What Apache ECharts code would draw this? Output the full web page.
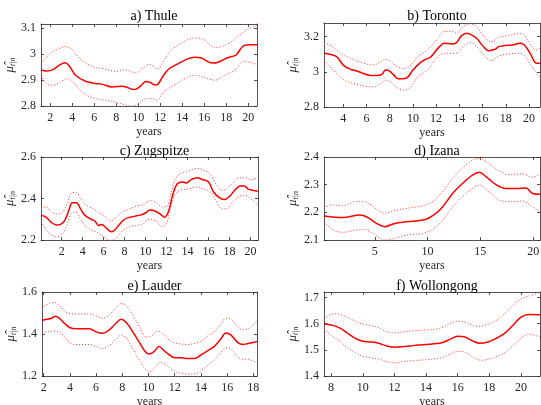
<!DOCTYPE html>
<html><head><meta charset="utf-8">
<script src="https://cdn.jsdelivr.net/npm/echarts@6/dist/echarts.min.js"></script>
<style>html,body{margin:0;padding:0;background:#fff}#c{width:541px;height:405px}</style>
</head><body><div id="c"></div>
<script>
// ---------- DATA ----------
const titles = ['a) Thule','b) Toronto','c) Zugspitze','d) Izana','e) Lauder','f) Wollongong'];

// a) Thule
const thuleYearsMid = [1.16,1.6,2.2,2.8,3.3,3.7,4.3,5.2,6.1,6.7,7.6,8.6,9.6,10.1,10.7,11.1,11.5,11.8,12.3,12.8,13.6,14.5,15.1,15.7,16.3,16.8,17.2,17.9,18.5,18.9,19.3,19.6,20.1,20.8];
const thuleMid = [2.939,2.934,2.939,2.956,2.966,2.956,2.918,2.895,2.886,2.884,2.873,2.876,2.863,2.873,2.894,2.89,2.881,2.884,2.918,2.943,2.962,2.981,2.987,2.985,2.971,2.965,2.967,2.981,2.99,2.996,3.019,3.032,3.035,3.035];
const thuleYearsUp = [1.16,1.94,2.7,3.38,3.93,4.69,5.92,6.84,7.91,8.83,9.74,10.51,10.97,11.73,12.35,12.96,14.03,15.1,15.87,16.94,17.55,18.47,19.3,20.0,20.8];
const thuleUp = [2.962,3.0,3.019,3.028,3.019,2.981,2.95,2.943,2.933,2.939,2.928,2.949,2.96,2.943,2.975,3.013,3.044,3.061,3.057,3.025,3.028,3.047,3.076,3.095,3.11];
const thuleYearsLo = [1.16,1.63,2.24,3.16,3.47,4.08,4.69,5.61,6.53,7.45,8.37,9.28,9.9,10.51,11.12,11.73,12.35,13.26,14.49,15.1,16.33,16.94,17.86,18.77,19.6,20.2,20.8];
const thuleLo = [2.918,2.886,2.88,2.899,2.905,2.892,2.861,2.835,2.825,2.819,2.81,2.8,2.804,2.825,2.829,2.823,2.856,2.88,2.911,2.918,2.905,2.899,2.918,2.937,2.972,2.968,2.958];

// b) Toronto
const torontoYearsMid = [2.34,2.84,3.42,4,4.58,5.16,5.75,6.33,6.91,7.35,7.64,7.93,8.36,8.65,9.09,9.53,9.96,10.4,10.98,11.56,12.15,12.73,13.31,13.75,14.18,14.62,15.05,15.49,16.07,16.51,17.09,17.38,17.96,18.55,19.27,19.6,20.1,20.6,20.95];
const torontoMid = [3.105,3.099,3.086,3.038,3.015,3.004,2.99,2.979,2.979,2.987,3.01,3.006,2.981,2.962,2.96,2.968,3.006,3.038,3.067,3.086,3.133,3.162,3.158,3.166,3.204,3.219,3.21,3.19,3.143,3.12,3.128,3.143,3.149,3.152,3.162,3.152,3.105,3.05,3.048];
const torontoYearsUp = [2.34,2.84,3.42,4,4.87,5.75,6.62,7.2,7.64,8.07,8.65,9.24,9.82,10.4,11.27,12.15,12.73,13.31,13.75,14.33,14.91,15.49,16.22,16.8,17.38,18.25,19.13,19.56,20.15,20.58,20.95];
const torontoUp = [3.162,3.152,3.124,3.095,3.07,3.048,3.038,3.057,3.07,3.061,3.029,3.019,3.038,3.086,3.124,3.19,3.229,3.229,3.219,3.257,3.272,3.257,3.19,3.171,3.196,3.206,3.219,3.21,3.152,3.124,3.133];
const torontoYearsLo = [2.34,2.84,3.42,4,4.87,5.75,6.62,7.2,7.64,8.07,8.65,9.24,9.82,10.4,11.27,12.15,12.73,13.45,13.89,14.47,14.91,15.49,16.22,16.8,17.38,18.25,19.13,19.71,20.15,20.58,20.95];
const torontoLo = [3.067,3.029,2.99,2.956,2.933,2.92,2.914,2.933,2.952,2.943,2.91,2.895,2.914,2.971,3.01,3.086,3.105,3.105,3.109,3.152,3.166,3.143,3.086,3.063,3.09,3.101,3.105,3.086,3.038,3.0,2.968];

// c) Zugspitze
const zugYearsMid = [0.03,0.5,1.0,1.5,1.9,2.3,2.7,3.0,3.4,3.8,4.2,4.8,5.2,5.5,5.8,6.2,6.7,7.0,7.5,8.0,8.5,9.0,9.5,10.0,10.4,10.9,11.4,11.8,12.2,12.6,13.0,13.5,13.9,14.3,14.9,15.5,16.0,16.5,17.0,17.5,18.0,18.5,19.0,19.4,19.8,20.2,20.7];
const zugMid = [2.32,2.31,2.285,2.272,2.275,2.295,2.345,2.38,2.38,2.35,2.32,2.3,2.29,2.27,2.275,2.26,2.24,2.245,2.275,2.3,2.31,2.315,2.32,2.33,2.345,2.34,2.325,2.31,2.34,2.42,2.47,2.48,2.475,2.49,2.5,2.49,2.48,2.43,2.405,2.395,2.41,2.44,2.46,2.46,2.445,2.44,2.435];
const zugYearsUp = [0.03,0.5,1.0,1.5,2.0,2.5,2.9,3.4,3.8,4.3,5.0,5.6,6.2,6.7,7.2,7.8,8.5,9.2,9.8,10.4,11.0,11.6,12.0,12.4,12.8,13.3,14.0,14.9,15.6,16.2,16.7,17.3,17.7,18.3,18.9,19.5,20.0,20.7];
const zugUp = [2.35,2.36,2.335,2.325,2.33,2.37,2.425,2.43,2.4,2.37,2.35,2.33,2.31,2.29,2.31,2.335,2.35,2.365,2.37,2.39,2.38,2.36,2.36,2.42,2.49,2.52,2.53,2.545,2.535,2.515,2.47,2.44,2.445,2.475,2.5,2.5,2.49,2.5];
const zugYearsLo = [0.03,0.5,1.0,1.5,2.0,2.5,2.9,3.3,3.8,4.3,5.0,5.6,6.2,6.7,7.2,7.8,8.5,9.2,9.8,10.4,11.0,11.6,12.0,12.4,12.8,13.3,14.0,14.9,15.6,16.2,16.7,17.3,17.7,18.3,18.9,19.5,20.0,20.7];
const zugLo = [2.29,2.25,2.225,2.215,2.225,2.27,2.325,2.335,2.3,2.265,2.245,2.23,2.21,2.198,2.21,2.245,2.265,2.27,2.28,2.3,2.29,2.265,2.28,2.36,2.42,2.44,2.445,2.455,2.445,2.43,2.39,2.35,2.35,2.38,2.41,2.415,2.4,2.37];

// d) Izana
const izanaYearsMid = [0.19,2.01,3.58,4.21,5.16,5.94,6.73,7.67,8.93,9.87,10.82,11.45,12.39,13.33,14.28,14.91,15.53,16.48,17.42,18.36,19.31,19.94,20.65];
const izanaMid = [2.187,2.181,2.19,2.184,2.16,2.148,2.158,2.164,2.169,2.175,2.197,2.221,2.269,2.305,2.335,2.345,2.329,2.3,2.286,2.286,2.288,2.268,2.265];
const izanaYearsUp = [0.19,1.07,2.01,3.27,4.21,5.16,5.94,6.73,7.99,9.56,10.5,11.45,12.39,13.65,14.75,15.53,16.79,17.74,18.99,19.94,20.65];
const izanaUp = [2.217,2.227,2.224,2.24,2.236,2.212,2.196,2.205,2.214,2.224,2.239,2.275,2.324,2.372,2.394,2.384,2.35,2.336,2.339,2.327,2.339];
const izanaYearsLo = [0.19,1.07,2.01,3.27,3.9,4.84,5.94,6.73,7.99,9.56,10.5,11.45,12.39,13.65,14.91,15.85,16.79,18.05,18.99,19.94,20.65];
const izanaLo = [2.166,2.136,2.128,2.136,2.139,2.124,2.1,2.104,2.118,2.124,2.14,2.172,2.22,2.268,2.298,2.274,2.244,2.239,2.241,2.22,2.202];

// e) Lauder
const lauderYearsMid = [1.87,2.2,2.6,2.9,3.2,3.6,4.0,4.5,5.0,5.5,6.0,6.5,7.0,7.5,7.9,8.3,8.8,9.3,9.7,10.0,10.4,10.8,11.2,11.6,12.0,12.5,13.0,13.5,14.0,14.5,15.0,15.5,15.9,16.3,16.8,17.2,17.6,18.0,18.28];
const lauderMid = [1.465,1.47,1.475,1.485,1.475,1.45,1.43,1.425,1.425,1.425,1.41,1.403,1.42,1.45,1.47,1.455,1.41,1.36,1.32,1.305,1.315,1.34,1.32,1.3,1.287,1.287,1.283,1.283,1.3,1.32,1.34,1.375,1.405,1.395,1.36,1.35,1.355,1.36,1.365];
const lauderYearsUp = [1.87,2.2,2.8,3.3,3.8,4.5,5.5,6.0,6.5,7.0,7.5,7.9,8.3,8.8,9.3,9.8,10.2,10.7,11.2,11.7,12.2,13.0,13.5,14.0,14.5,15.0,15.5,15.9,16.3,16.8,17.2,17.6,18.0,18.28];
const lauderUp = [1.52,1.54,1.55,1.53,1.5,1.495,1.495,1.485,1.475,1.49,1.525,1.545,1.535,1.49,1.435,1.385,1.39,1.415,1.395,1.365,1.355,1.35,1.355,1.365,1.39,1.41,1.445,1.475,1.47,1.435,1.42,1.425,1.445,1.46];
const lauderYearsLo = [1.87,2.2,2.8,3.3,3.8,4.3,5.0,5.5,6.0,6.5,7.0,7.5,7.9,8.3,8.8,9.3,9.8,10.1,10.5,10.9,11.3,11.8,12.3,13.0,13.6,14.0,14.5,15.0,15.5,15.9,16.3,16.8,17.2,17.6,18.0,18.28];
const lauderLo = [1.41,1.41,1.415,1.405,1.37,1.35,1.35,1.35,1.34,1.33,1.345,1.375,1.395,1.38,1.33,1.275,1.23,1.22,1.24,1.265,1.255,1.23,1.215,1.21,1.21,1.225,1.25,1.275,1.31,1.335,1.33,1.29,1.28,1.28,1.27,1.265];

// f) Wollongong
const wollYearsMid = [7.55,8.0,8.5,9.0,9.5,10.0,10.5,11.0,11.5,12.0,12.5,13.0,13.5,14.0,14.5,15.0,15.5,16.0,16.4,16.9,17.4,17.9,18.4,19.0,19.5,20.0,20.5,21.2];
const wollMid = [1.60,1.595,1.585,1.565,1.545,1.533,1.53,1.525,1.515,1.51,1.512,1.515,1.518,1.52,1.523,1.527,1.54,1.552,1.55,1.535,1.525,1.53,1.543,1.565,1.595,1.625,1.635,1.634];
const wollYearsUp = [7.55,8.0,8.3,8.8,9.5,10.0,10.5,11.0,11.5,12.0,12.5,13.0,14.0,14.5,15.0,15.5,16.0,16.5,17.0,17.4,18.0,18.5,19.0,19.5,20.0,20.5,21.2];
const wollUp = [1.62,1.635,1.638,1.63,1.61,1.598,1.593,1.585,1.57,1.565,1.568,1.572,1.576,1.578,1.585,1.6,1.61,1.605,1.592,1.59,1.6,1.615,1.64,1.67,1.695,1.705,1.72];
const wollYearsLo = [7.55,8.0,8.5,9.0,9.5,10.0,10.5,11.0,11.5,12.0,12.5,13.0,14.0,14.5,15.0,15.5,16.0,16.5,17.0,17.5,18.0,18.5,19.0,19.5,20.0,20.5,21.2];
const wollLo = [1.58,1.555,1.535,1.51,1.49,1.475,1.47,1.465,1.455,1.45,1.455,1.458,1.462,1.465,1.47,1.483,1.495,1.49,1.47,1.46,1.465,1.475,1.49,1.515,1.545,1.56,1.548];

// Axis ranges and tick labels
const xRanges = [[1.16,20.8],[2.34,20.95],[0.03,20.72],[0.19,20.65],[1.87,18.28],[7.55,21.2]];
const yRanges = [[2.8,3.115],[2.8,3.277],[2.2,2.6],[2.1,2.4],[1.2,1.6],[1.4,1.721]];
const xTicks = [[2,4,6,8,10,12,14,16,18,20],[4,6,8,10,12,14,16,18,20],[2,4,6,8,10,12,14,16,18,20],[5,10,15,20],[2,4,6,8,10,12,14,16,18],[8,10,12,14,16,18,20]];
const yTicks = [[2.8,2.9,3,3.1],[2.8,3,3.2],[2.2,2.4,2.6],[2.1,2.2,2.3,2.4],[1.2,1.4,1.6],[1.4,1.5,1.6,1.7]];

const midSets = [[thuleYearsMid,thuleMid],[torontoYearsMid,torontoMid],[zugYearsMid,zugMid],[izanaYearsMid,izanaMid],[lauderYearsMid,lauderMid],[wollYearsMid,wollMid]];
const upSets = [[thuleYearsUp,thuleUp],[torontoYearsUp,torontoUp],[zugYearsUp,zugUp],[izanaYearsUp,izanaUp],[lauderYearsUp,lauderUp],[wollYearsUp,wollUp]];
const loSets = [[thuleYearsLo,thuleLo],[torontoYearsLo,torontoLo],[zugYearsLo,zugLo],[izanaYearsLo,izanaLo],[lauderYearsLo,lauderLo],[wollYearsLo,wollLo]];

// ---------- LAYOUT ----------
const gridBoxes = [
  {left:41, top:24, width:216, height:82},
  {left:324, top:23, width:216, height:84},
  {left:41, top:157, width:217, height:83},
  {left:324, top:157, width:216, height:83},
  {left:42, top:292, width:215, height:84},
  {left:324, top:292, width:216, height:84}
];
const titleTops = [4,4,139,139,274,274];

const FONT = 'Liberation Serif';
const AX = '#262626';
const pairs = (xs, ys) => xs.map((x, i) => [x, ys[i]]);

const grid = [], xAxis = [], yAxis = [], series = [], title = [];
gridBoxes.forEach((g, i) => {
  grid.push(Object.assign({outerBoundsMode:'none', containLabel:false}, g));
  title.push({text: titles[i], left: g.left + g.width/2, top: titleTops[i], textAlign:'center',
    textStyle:{fontFamily:FONT, fontSize:14, fontWeight:'normal', color:'#000'}});
  const xr = xRanges[i], yr = yRanges[i];
  const tick = (vals) => ({show:true, inside:true, length:3, customValues: vals, lineStyle:{color:AX, width:0.8}});
  xAxis.push({type:'value', gridIndex:i, min:xr[0], max:xr[1], position:'bottom',
    axisLine:{show:true, onZero:false, lineStyle:{color:AX, width:0.8}},
    axisTick: tick(xTicks[i]),
    axisLabel:{show:true, customValues:xTicks[i], margin:6, fontFamily:FONT, fontSize:12, color:AX},
    splitLine:{show:false},
    name:'years', nameLocation:'middle', nameGap:20, nameTextStyle:{fontFamily:FONT, fontSize:12, color:AX}});
  xAxis.push({type:'value', gridIndex:i, min:xr[0], max:xr[1], position:'top',
    axisLine:{show:true, onZero:false, lineStyle:{color:AX, width:0.8}},
    axisTick: tick(xTicks[i]), axisLabel:{show:false}, splitLine:{show:false}});
  yAxis.push({type:'value', gridIndex:i, min:yr[0], max:yr[1], position:'left',
    axisLine:{show:true, onZero:false, lineStyle:{color:AX, width:0.8}},
    axisTick: tick(yTicks[i]),
    axisLabel:{show:true, customValues:yTicks[i], margin:5, fontFamily:FONT, fontSize:12, color:AX},
    splitLine:{show:false},
    name:'{m|μ̂}{s|t|n}', nameLocation:'middle', nameGap:24,
    nameTextStyle:{rich:{m:{fontFamily:FONT, fontStyle:'italic', fontSize:13, color:AX},
                         s:{fontFamily:FONT, fontStyle:'italic', fontSize:8, color:AX, padding:[6,0,0,0]}}}});
  yAxis.push({type:'value', gridIndex:i, min:yr[0], max:yr[1], position:'right',
    axisLine:{show:true, onZero:false, lineStyle:{color:AX, width:0.8}},
    axisTick: tick(yTicks[i]), axisLabel:{show:false}, splitLine:{show:false}});
  const common = {type:'line', xAxisIndex:2*i, yAxisIndex:2*i, showSymbol:false, symbol:'none', smooth:0.35, animation:false, z:3};
  series.push(Object.assign({}, common, {data: pairs(upSets[i][0], upSets[i][1]),
    lineStyle:{color:'#ff5050', width:1, type:[1.2,1.8]}}));
  series.push(Object.assign({}, common, {data: pairs(loSets[i][0], loSets[i][1]),
    lineStyle:{color:'#ff5050', width:1, type:[1.2,1.8]}}));
  series.push(Object.assign({}, common, {data: pairs(midSets[i][0], midSets[i][1]), z:4,
    lineStyle:{color:'#ff0000', width:1.5}}));
});

const chart = echarts.init(document.getElementById('c'), null, {renderer:'canvas'});
chart.setOption({animation:false, backgroundColor:'#fff', title, grid, xAxis, yAxis, series});
</script>
</body></html>
